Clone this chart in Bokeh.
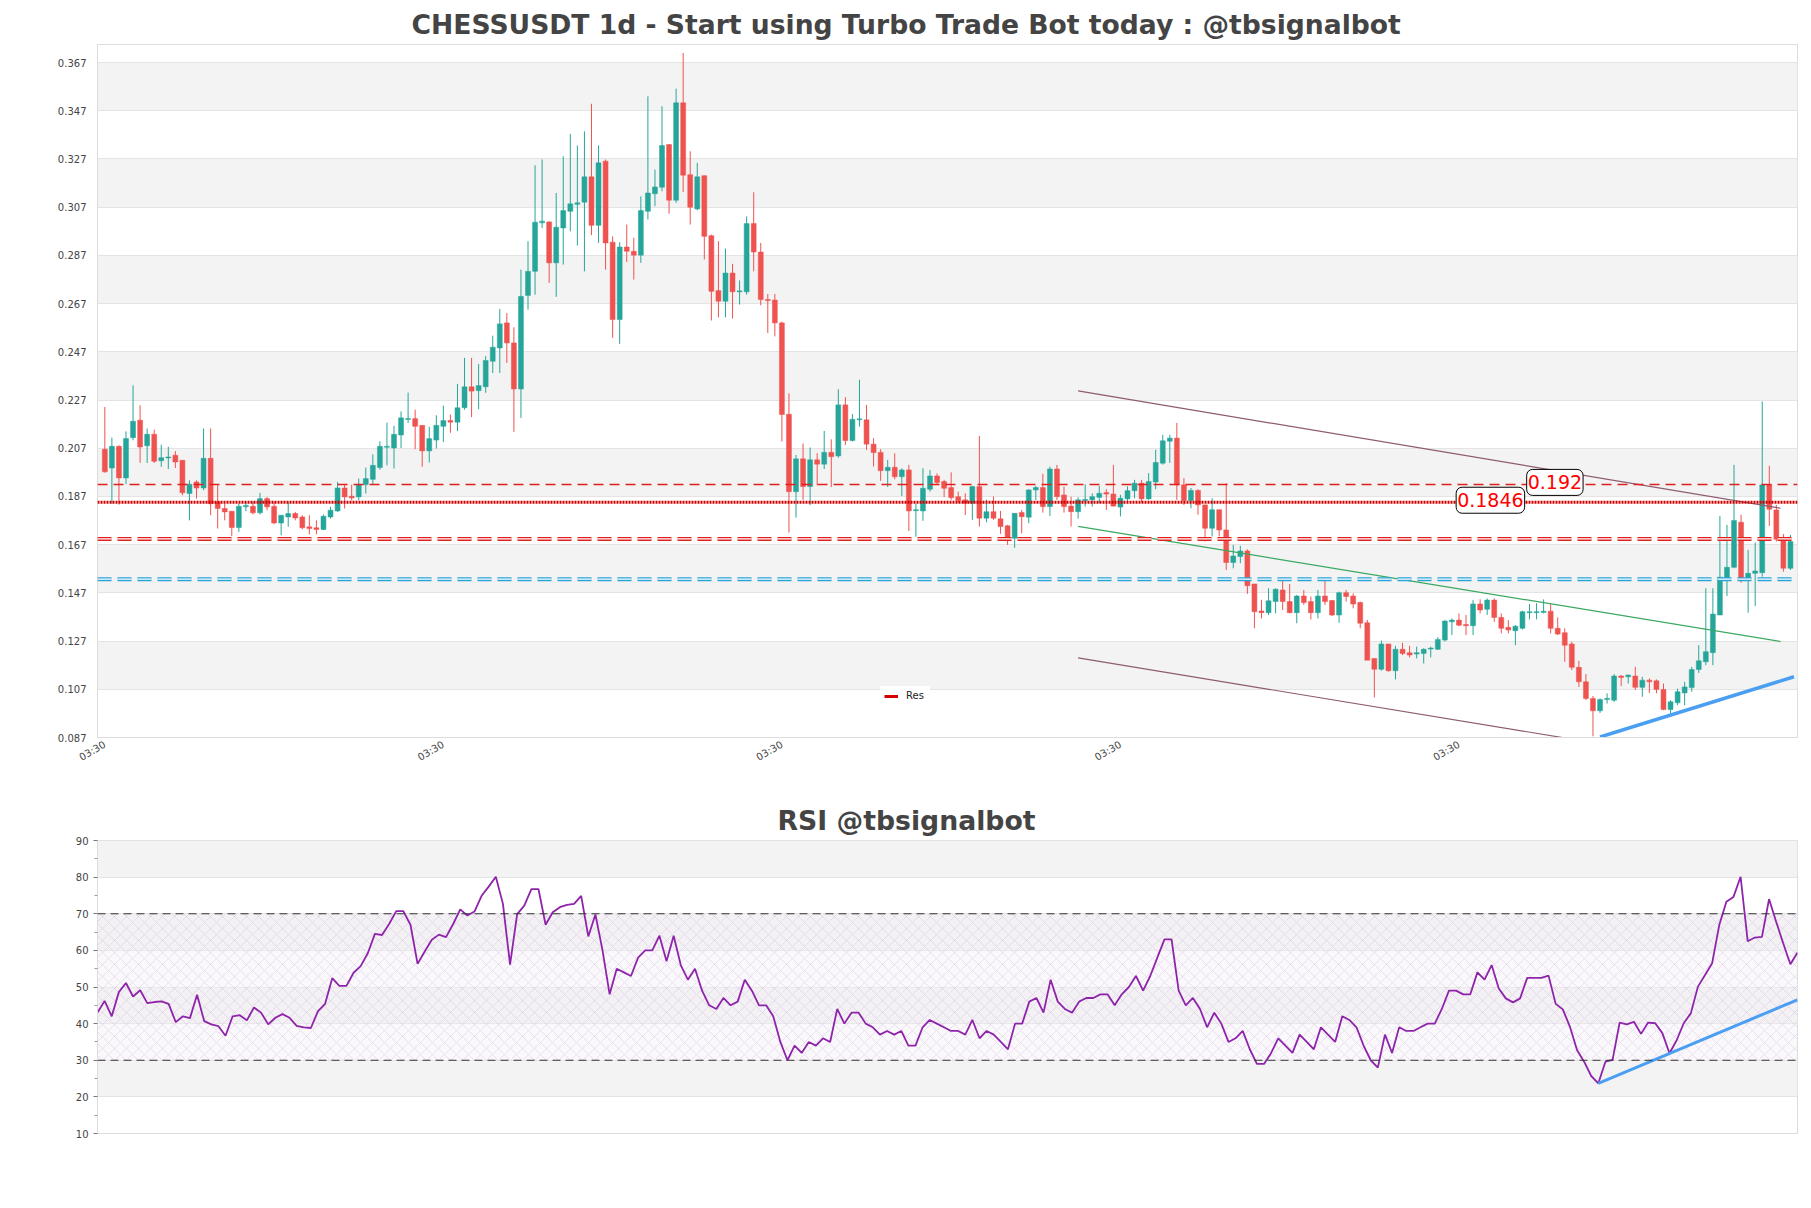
import math
from bokeh.plotting import figure
from bokeh.models import (ColumnDataSource, Range1d, FixedTicker, Span, Label,
                          BoxAnnotation, Legend, LegendItem, PrintfTickFormatter)
from bokeh.layouts import column
from bokeh.embed import file_html
from bokeh.resources import INLINE

# ---------------- data ----------------
open_ = [0.2066,0.1988,0.2078,0.1947,0.2114,0.2186,0.2080,0.2128,0.2018,0.2030,
         0.2041,0.2020,0.1882,0.1930,0.1905,0.2028,0.1847,0.1820,0.1809,0.1741,
         0.1827,0.1829,0.1802,0.1861,0.1829,0.1760,0.1785,0.1799,0.1785,0.1744,
         0.1740,0.1733,0.1785,0.1810,0.1905,0.1871,0.1868,0.1919,0.1941,0.1990,
         0.2075,0.2071,0.2125,0.2190,0.2193,0.2165,0.2059,0.2104,0.2161,0.2185,
         0.2178,0.2238,0.2325,0.2309,0.2325,0.2431,0.2486,0.2590,0.2507,0.2316,
         0.2704,0.2804,0.3005,0.3009,0.2839,0.2984,0.3053,0.3082,0.3091,0.3196,
         0.2995,0.3261,0.2925,0.2604,0.2905,0.2887,0.2871,0.3053,0.3126,0.3153,
         0.3330,0.3099,0.3503,0.3205,0.3063,0.3201,0.2952,0.2724,0.2680,0.2797,
         0.2719,0.2719,0.3002,0.2884,0.2687,0.2685,0.2590,0.2211,0.1890,0.2026,
         0.1911,0.2022,0.2004,0.2053,0.2038,0.2250,0.2102,0.2188,0.2188,0.2087,
         0.2053,0.1977,0.1991,0.1952,0.1980,0.1811,0.1810,0.1900,0.1955,0.1932,
         0.1907,0.1869,0.1856,0.1842,0.1911,0.1780,0.1807,0.1777,0.1748,0.1697,
         0.1803,0.1784,0.1897,0.1907,0.1828,0.1984,0.1876,0.1830,0.1807,0.1853,
         0.1856,0.1866,0.1886,0.1880,0.1826,0.1860,0.1894,0.1925,0.1860,0.1930,
         0.2008,0.2099,0.2112,0.1918,0.1853,0.1895,0.1835,0.1738,0.1815,0.1731,
         0.1596,0.1621,0.1644,0.1507,0.1395,0.1388,0.1434,0.1482,0.1434,0.1388,
         0.1457,0.1434,0.1388,0.1457,0.1438,0.1378,0.1471,0.1457,0.1430,0.1346,
         0.1198,0.1153,0.1258,0.1147,0.1236,0.1222,0.1216,0.1219,0.1237,0.1236,
         0.1274,0.1350,0.1357,0.1339,0.1334,0.1424,0.1402,0.1440,0.1368,0.1327,
         0.1313,0.1323,0.1388,0.1388,0.1389,0.1394,0.1323,0.1305,0.1258,0.1161,
         0.1101,0.1032,0.0981,0.1028,0.1025,0.1125,0.1122,0.1125,0.1078,0.1108,
         0.1105,0.1069,0.0986,0.1014,0.1055,0.1077,0.1152,0.1184,0.1222,0.1378,
         0.1530,0.1576,0.1763,0.1523,0.1551,0.1554,0.1918,0.1814,0.1696,0.1572]
high = [0.2241,0.2114,0.2082,0.2140,0.2331,0.2248,0.2152,0.2147,0.2085,0.2076,
        0.2058,0.2020,0.1937,0.1937,0.2152,0.2152,0.1916,0.1840,0.1809,0.1840,
        0.1845,0.1847,0.1885,0.1868,0.1847,0.1792,0.1847,0.1806,0.1792,0.1792,
        0.1771,0.1795,0.1827,0.1930,0.1919,0.1919,0.1944,0.1990,0.2045,0.2099,
        0.2176,0.2163,0.2223,0.2301,0.2230,0.2165,0.2159,0.2207,0.2247,0.2210,
        0.2337,0.2445,0.2445,0.2420,0.2452,0.2537,0.2648,0.2631,0.2572,0.2811,
        0.2929,0.3244,0.3268,0.3012,0.3129,0.3281,0.3374,0.3326,0.3385,0.3499,
        0.3326,0.3268,0.2949,0.2925,0.2998,0.2943,0.3115,0.3530,0.3226,0.3489,
        0.3330,0.3562,0.3710,0.3302,0.3254,0.3201,0.2956,0.2929,0.2898,0.2835,
        0.2766,0.3032,0.3132,0.2922,0.2710,0.2710,0.2595,0.2298,0.2042,0.2090,
        0.2073,0.2049,0.2142,0.2107,0.2315,0.2282,0.2212,0.2354,0.2250,0.2112,
        0.2066,0.2022,0.2049,0.1987,0.2001,0.1840,0.1987,0.1980,0.1966,0.1939,
        0.1970,0.1890,0.1883,0.1914,0.2121,0.1856,0.1870,0.1810,0.1752,0.1800,
        0.1814,0.1900,0.1914,0.1964,0.1994,0.2001,0.1911,0.1869,0.1867,0.1920,
        0.1883,0.1914,0.1900,0.2001,0.1877,0.1912,0.1939,0.1939,0.1967,0.2064,
        0.2126,0.2126,0.2175,0.1946,0.1905,0.1900,0.1835,0.1863,0.1815,0.1925,
        0.1669,0.1665,0.1651,0.1507,0.1441,0.1489,0.1489,0.1524,0.1507,0.1461,
        0.1482,0.1455,0.1482,0.1527,0.1441,0.1475,0.1482,0.1468,0.1434,0.1358,
        0.1198,0.1272,0.1258,0.1250,0.1263,0.1250,0.1247,0.1240,0.1247,0.1286,
        0.1357,0.1364,0.1385,0.1378,0.1440,0.1443,0.1447,0.1447,0.1385,0.1357,
        0.1336,0.1396,0.1424,0.1427,0.1443,0.1424,0.1368,0.1323,0.1267,0.1188,
        0.1133,0.1042,0.1032,0.1053,0.1133,0.1129,0.1131,0.1163,0.1122,0.1115,
        0.1111,0.1094,0.1025,0.1073,0.1101,0.1163,0.1253,0.1489,0.1489,0.1789,
        0.1752,0.2001,0.1794,0.1648,0.1679,0.2264,0.1997,0.1835,0.1714,0.1710]
low = [0.1969,0.1840,0.1836,0.1921,0.2103,0.2009,0.2009,0.2009,0.1993,0.1984,
       0.1988,0.1875,0.1771,0.1861,0.1896,0.1792,0.1737,0.1771,0.1705,0.1723,
       0.1809,0.1795,0.1795,0.1813,0.1755,0.1709,0.1744,0.1771,0.1734,0.1713,
       0.1713,0.1730,0.1778,0.1806,0.1820,0.1854,0.1854,0.1882,0.1921,0.1981,
       0.1999,0.1986,0.2071,0.2175,0.2066,0.1993,0.2011,0.2069,0.2096,0.2134,
       0.2141,0.2230,0.2199,0.2232,0.2300,0.2382,0.2382,0.2424,0.2138,0.2196,
       0.2645,0.2707,0.2984,0.2756,0.2698,0.2832,0.2970,0.2911,0.2804,0.2954,
       0.2922,0.2811,0.2528,0.2503,0.2843,0.2770,0.2839,0.3019,0.3074,0.3136,
       0.3043,0.3088,0.3133,0.2998,0.3057,0.2853,0.2600,0.2613,0.2613,0.2608,
       0.2666,0.2707,0.2804,0.2663,0.2548,0.2534,0.2098,0.1720,0.1782,0.1855,
       0.1834,0.1916,0.1984,0.1909,0.2031,0.2084,0.2098,0.2160,0.2063,0.1994,
       0.1935,0.1909,0.1941,0.1872,0.1727,0.1703,0.1769,0.1890,0.1918,0.1867,
       0.1856,0.1842,0.1793,0.1773,0.1745,0.1763,0.1773,0.1715,0.1669,0.1657,
       0.1717,0.1759,0.1855,0.1803,0.1789,0.1855,0.1803,0.1745,0.1778,0.1828,
       0.1828,0.1842,0.1814,0.1828,0.1787,0.1849,0.1863,0.1845,0.1856,0.1900,
       0.2002,0.2009,0.1856,0.1835,0.1821,0.1794,0.1683,0.1704,0.1704,0.1565,
       0.1572,0.1593,0.1466,0.1323,0.1364,0.1378,0.1385,0.1399,0.1385,0.1344,
       0.1420,0.1360,0.1364,0.1420,0.1374,0.1346,0.1434,0.1406,0.1323,0.1191,
       0.1036,0.1147,0.1143,0.1111,0.1212,0.1202,0.1198,0.1177,0.1202,0.1233,
       0.1268,0.1295,0.1332,0.1295,0.1295,0.1385,0.1378,0.1350,0.1302,0.1302,
       0.1253,0.1318,0.1360,0.1360,0.1385,0.1302,0.1295,0.1184,0.1150,0.1080,
       0.1025,0.0875,0.0972,0.1011,0.1018,0.1083,0.1094,0.1067,0.1039,0.1055,
       0.1053,0.0983,0.0969,0.1004,0.1004,0.1060,0.1138,0.1170,0.1170,0.1378,
       0.1457,0.1572,0.1512,0.1388,0.1415,0.1537,0.1748,0.1683,0.1558,0.1565]
close = [0.1972,0.2078,0.1947,0.2110,0.2182,0.2075,0.2128,0.2016,0.2031,0.2034,
         0.2013,0.1885,0.1921,0.1905,0.2028,0.1840,0.1820,0.1806,0.1741,0.1829,
         0.1833,0.1802,0.1861,0.1827,0.1760,0.1792,0.1799,0.1781,0.1740,0.1737,
         0.1733,0.1788,0.1813,0.1905,0.1868,0.1864,0.1919,0.1944,0.1999,0.2078,
         0.2077,0.2128,0.2196,0.2193,0.2161,0.2059,0.2110,0.2165,0.2185,0.2178,
         0.2238,0.2325,0.2307,0.2330,0.2434,0.2489,0.2586,0.2507,0.2316,0.2700,
         0.2804,0.3008,0.3012,0.2839,0.2987,0.3056,0.3084,0.3088,0.3196,0.2995,
         0.3254,0.2922,0.2604,0.2905,0.2887,0.2871,0.3056,0.3129,0.3154,0.3326,
         0.3099,0.3503,0.3203,0.3070,0.3196,0.2949,0.2721,0.2680,0.2797,0.2719,
         0.2723,0.3002,0.2884,0.2687,0.2683,0.2590,0.2210,0.1890,0.2026,0.1911,
         0.2022,0.2004,0.2053,0.2035,0.2250,0.2102,0.2190,0.2192,0.2087,0.2052,
         0.1977,0.1991,0.1952,0.1980,0.1810,0.1815,0.1904,0.1955,0.1928,0.1904,
         0.1865,0.1853,0.1842,0.1911,0.1780,0.1807,0.1780,0.1745,0.1697,0.1800,
         0.1786,0.1897,0.1907,0.1828,0.1984,0.1869,0.1828,0.1807,0.1856,0.1858,
         0.1869,0.1883,0.1880,0.1830,0.1863,0.1894,0.1925,0.1860,0.1932,0.2011,
         0.2101,0.2112,0.1918,0.1853,0.1895,0.1835,0.1738,0.1815,0.1731,0.1596,
         0.1623,0.1644,0.1500,0.1392,0.1388,0.1437,0.1485,0.1434,0.1388,0.1457,
         0.1430,0.1388,0.1457,0.1434,0.1378,0.1471,0.1455,0.1424,0.1344,0.1191,
         0.1153,0.1258,0.1147,0.1236,0.1219,0.1212,0.1222,0.1236,0.1241,0.1277,
         0.1353,0.1357,0.1336,0.1334,0.1424,0.1399,0.1440,0.1368,0.1323,0.1316,
         0.1332,0.1392,0.1392,0.1392,0.1394,0.1323,0.1299,0.1253,0.1161,0.1101,
         0.1032,0.0981,0.1028,0.1032,0.1125,0.1119,0.1129,0.1078,0.1108,0.1101,
         0.1069,0.0986,0.1018,0.1060,0.1080,0.1152,0.1188,0.1226,0.1382,0.1535,
         0.1576,0.1770,0.1523,0.1551,0.1561,0.1918,0.1817,0.1692,0.1572,0.1683]
rsi = [43.0,46.2,42.0,48.6,51.1,47.4,49.1,45.6,45.9,46.1,
       45.4,40.4,42.0,41.5,47.9,40.7,39.8,39.3,36.7,42.0,
       42.3,40.9,44.4,43.0,39.8,41.6,42.6,41.6,39.4,39.0,
       38.8,43.4,45.4,52.4,50.3,50.3,53.9,55.7,59.2,64.5,
       64.2,67.2,70.7,70.7,67.0,56.3,59.7,62.9,64.3,63.6,
       67.2,71.2,69.5,70.6,74.9,77.4,80.1,72.7,56.1,69.9,
       72.2,76.7,76.7,67.0,70.4,71.8,72.4,72.7,74.9,63.8,
       69.8,60.0,48.0,55.0,54.0,53.0,58.0,60.0,60.0,64.0,
       57.0,64.0,56.0,52.0,55.0,49.0,45.0,44.0,47.0,45.0,
       46.0,52.0,49.0,45.0,45.0,42.0,35.0,30.0,34.0,32.0,
       35.0,34.0,36.0,35.0,44.0,40.0,43.0,43.0,40.0,39.0,
       37.0,38.0,37.0,38.0,34.0,34.0,39.0,41.0,40.0,39.0,
       38.0,38.0,37.0,41.0,36.0,38.0,37.0,35.0,33.0,40.0,
       40.0,46.0,47.0,43.0,52.0,46.0,44.0,43.0,46.0,47.0,
       47.0,48.0,48.0,45.0,48.0,50.0,53.0,49.0,53.0,58.0,
       63.0,63.0,49.0,45.0,47.0,44.0,39.0,43.0,40.0,35.0,
       36.0,38.0,33.0,29.0,29.0,32.0,36.0,34.0,32.0,37.0,
       35.0,33.0,39.0,37.0,35.0,42.0,41.0,39.0,34.0,30.0,
       28.0,37.0,32.0,39.0,38.0,38.0,39.0,40.0,40.0,44.0,
       49.0,49.0,48.0,48.0,54.0,52.0,56.0,49.6,46.9,45.8,
       46.9,52.5,52.5,52.5,53.1,45.4,43.9,39.2,32.8,29.6,
       25.7,23.7,29.6,30.1,40.3,39.8,40.5,37.2,40.3,40.1,
       37.4,31.9,35.4,40.1,42.8,50.1,53.3,56.5,66.9,73.3,
       74.6,80.1,62.5,63.5,63.7,74.0,67.8,61.9,56.2,59.4]

x_tick_positions = [0, 48, 96, 144, 192]
x_tick_label = "03:30"
price_ticks = [0.087, 0.107, 0.127, 0.147, 0.167, 0.187, 0.207, 0.227,
               0.247, 0.267, 0.287, 0.307, 0.327, 0.347, 0.367]
rsi_ticks = [10, 20, 30, 40, 50, 60, 70, 80, 90]
rsi_minor_ticks = [15, 25, 35, 45, 55, 65, 75, 85]

res_level_dashed = 0.192
res_level_dotted = 0.1846
res_level_double = 0.1694
sup_level_blue = 0.1527
label_x = [201.6, 191.6]

channel_x = [138, 237.6]
channel_upper_y = [0.2308, 0.1821]
channel_lower_y = [0.1200, 0.0721]
channel_mid_y = [0.1746, 0.1268]
trend_x = [212, 239.5]
trend_y = [0.0872, 0.1122]
rsi_trend_x = [211, 239]
rsi_trend_y = [23.7, 46.5]
rsi_levels = [70, 30]

FONT = "DejaVu Sans"
GREEN = "#26a69a"
RED = "#ef5350"

# ---------------- main price chart ----------------
n = len(close)
idx = list(range(n))
tops, bots, cols = [], [], []
for o, c in zip(open_, close):
    t, b = max(o, c), min(o, c)
    if t - b < 0.0004:
        m = (t + b) / 2
        t, b = m + 0.0002, m - 0.0002
    tops.append(t)
    bots.append(b)
    cols.append(GREEN if c >= o else RED)
src = ColumnDataSource(dict(x=idx, top=tops, bottom=bots, high=high, low=low, color=cols))

p = figure(width=1803, height=790, x_range=Range1d(-1.04, 240.0),
           y_range=Range1d(0.087, 0.3745), output_backend="svg",
           toolbar_location=None, min_border_left=97, min_border_right=6,
           min_border_top=44, min_border_bottom=53)
p.title.text = "CHESSUSDT 1d - Start using Turbo Trade Bot today : @tbsignalbot"
p.title.text_font = FONT
p.title.text_font_size = "26.6px"
p.title.text_font_style = "bold"
p.title.text_color = "#444444"
p.title.align = "left"
p.title.offset = 314
p.outline_line_color = "#dddddd"
p.background_fill_color = "white"
p.border_fill_color = "white"

p.yaxis.ticker = FixedTicker(ticks=price_ticks)
p.yaxis.formatter = PrintfTickFormatter(format="%.3f")
p.yaxis.major_label_text_font = FONT
p.yaxis.major_label_text_font_size = "10px"
p.yaxis.major_label_text_color = "#444444"
p.yaxis.major_tick_line_color = None
p.yaxis.minor_tick_line_color = None
p.yaxis.axis_line_color = "#dddddd"

p.xaxis.ticker = FixedTicker(ticks=x_tick_positions)
p.xaxis.major_label_overrides = {t: x_tick_label for t in x_tick_positions}
p.xaxis.major_label_orientation = math.pi / 6
p.xaxis.major_label_standoff = 0
p.xaxis.major_label_text_font = FONT
p.xaxis.major_label_text_font_size = "10px"
p.xaxis.major_label_text_color = "#444444"
p.xaxis.major_tick_line_color = None
p.xaxis.minor_tick_line_color = None
p.xaxis.axis_line_color = "#dddddd"

p.xgrid.visible = False
p.ygrid.grid_line_color = "#e4e4e4"
p.ygrid.band_fill_color = "#f3f3f3"
p.ygrid.band_fill_alpha = 1.0

p.segment(x0="x", y0="high", x1="x", y1="low", line_color="color", line_width=1, source=src)
p.vbar(x="x", width=0.7, top="top", bottom="bottom", fill_color="color",
       line_color="color", line_width=0.5, source=src)

# horizontal levels
p.add_layout(Span(location=res_level_dashed, dimension="width", line_color="#e0201f",
                  line_width=1.5, line_dash="10 6"))
p.add_layout(Span(location=res_level_dotted, dimension="width", line_color="#d00000",
                  line_width=3, line_dash="2 1"))
p.add_layout(Span(location=res_level_double, dimension="width", line_color="#e0201f",
                  line_width=4, line_dash="14 6"))
p.add_layout(Span(location=res_level_double, dimension="width", line_color="white",
                  line_width=1.2, line_dash="14 6"))
p.add_layout(Span(location=sup_level_blue, dimension="width", line_color="#2aa3d8",
                  line_width=4, line_dash="14 6"))
p.add_layout(Span(location=sup_level_blue, dimension="width", line_color="white",
                  line_width=1.2, line_dash="14 6"))

# channel / trend lines
p.line(channel_x, channel_upper_y, line_color="#8e5a72", line_width=1.2)
p.line(channel_x, channel_lower_y, line_color="#8e5a72", line_width=1.2)
p.line(channel_x, channel_mid_y, line_color="#3aa860", line_width=1.2)
p.line(trend_x, trend_y, line_color="#4a9ff2", line_width=3.5)

# price labels
for xv, yv, txt in [(label_x[0], res_level_dashed, "0.192"),
                    (label_x[1], res_level_dotted, "0.1846")]:
    p.add_layout(Label(x=xv, y=yv, y_offset=2, text=txt, text_color="#ff0000",
                       text_font=FONT, text_font_size="19px", text_baseline="middle",
                       text_align="left", background_fill_color="white",
                       background_fill_alpha=1.0, border_line_color="black",
                       border_line_width=1, border_radius=6, padding=(1, 6)))

# legend (glyph only, no visible data)
dummy = p.line(x=[float("nan")], y=[float("nan")], line_color="#d40000", line_width=3)
legend = Legend(items=[LegendItem(label="Res", renderers=[dummy])], location=(783, 32),
                label_text_font=FONT, label_text_font_size="10px", label_text_color="#222222",
                glyph_width=14, glyph_height=10, padding=4, margin=0, spacing=0,
                label_standoff=8, border_line_alpha=0, background_fill_color="white",
                background_fill_alpha=1.0)
p.add_layout(legend)

# ---------------- RSI chart ----------------
r = figure(width=1803, height=410, x_range=Range1d(0, n - 1), y_range=Range1d(10, 90),
           output_backend="svg", toolbar_location=None, min_border_left=97,
           min_border_right=6, min_border_top=50, min_border_bottom=67)
r.title.text = "RSI @tbsignalbot"
r.title.text_font = FONT
r.title.text_font_size = "26.7px"
r.title.text_font_style = "bold"
r.title.text_color = "#444444"
r.title.align = "left"
r.title.offset = 680
r.outline_line_color = "#dddddd"
r.xaxis.visible = False
r.xgrid.visible = False
r.yaxis.ticker = FixedTicker(ticks=rsi_ticks, minor_ticks=rsi_minor_ticks)
r.yaxis.major_label_text_font = FONT
r.yaxis.major_label_text_font_size = "10px"
r.yaxis.major_label_text_color = "#444444"
r.yaxis.major_tick_line_color = "#777777"
r.yaxis.minor_tick_line_color = "#999999"
r.yaxis.major_tick_out = 4
r.yaxis.minor_tick_out = 3
r.yaxis.major_tick_in = 0
r.yaxis.minor_tick_in = 0
r.yaxis.axis_line_color = "#dddddd"
r.ygrid.grid_line_color = "#e4e4e4"
r.ygrid.band_fill_color = "#f3f3f3"
r.ygrid.band_fill_alpha = 1.0

r.add_layout(BoxAnnotation(bottom=rsi_levels[1], top=rsi_levels[0], fill_color="#f4eef8",
                           fill_alpha=0.4, line_alpha=0, hatch_pattern="diagonal_cross",
                           hatch_color="#b39fc6", hatch_alpha=0.45, hatch_scale=12,
                           hatch_weight=0.6, level="underlay"))
for lv in rsi_levels:
    r.add_layout(Span(location=lv, dimension="width", line_color="#333333",
                      line_width=1, line_dash="8 5"))
r.line(list(range(len(rsi))), rsi, line_color="#8e24aa", line_width=1.8)
r.line(rsi_trend_x, rsi_trend_y, line_color="#4a9ff2", line_width=3)

layout = column(p, r, spacing=0)
open("out.html", "w").write(file_html(layout, INLINE))
